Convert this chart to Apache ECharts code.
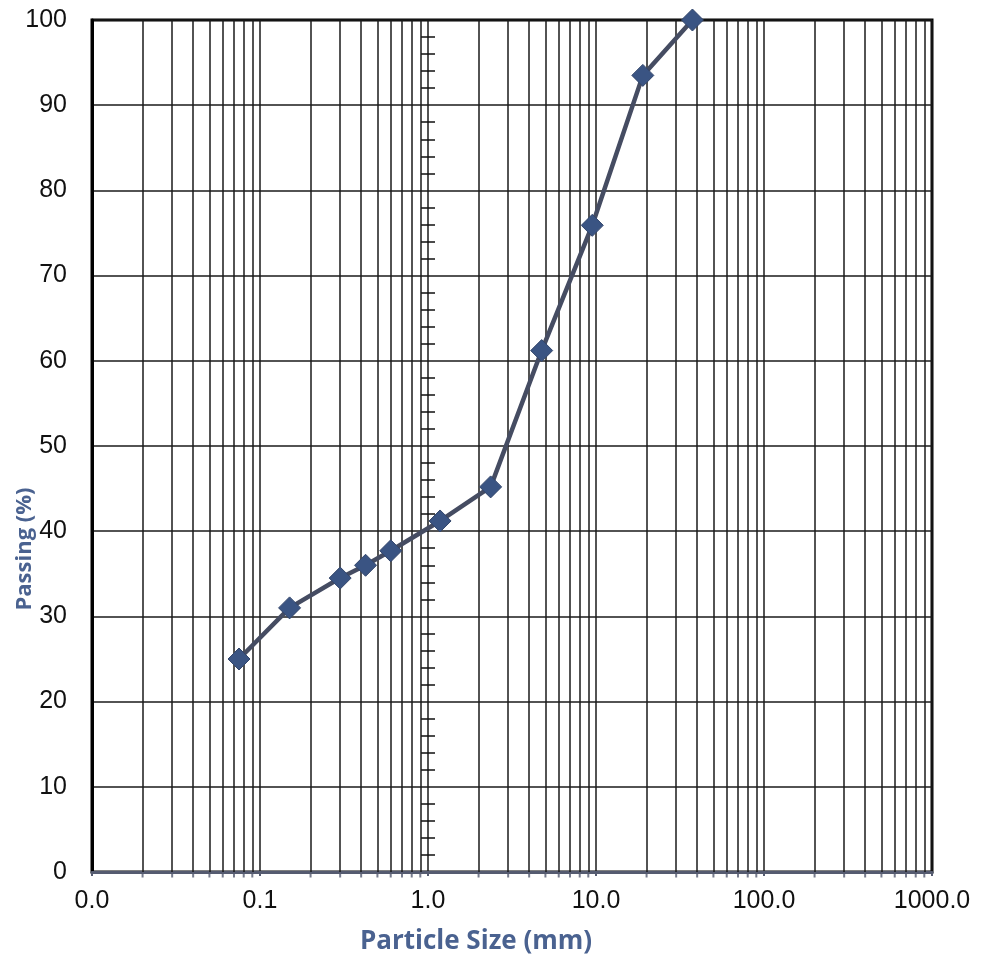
<!DOCTYPE html>
<html>
<head>
<meta charset="utf-8">
<script src="https://cdn.jsdelivr.net/npm/echarts@6/dist/echarts.min.js"></script>
<style>html,body{margin:0;padding:0;background:#fff}#c{width:987px;height:960px}</style>
</head>
<body>
<div id="c"></div>
<script>
// Sieve sizes (mm) and percent passing
const particleSize = [0.075, 0.15, 0.3, 0.425, 0.6, 1.18, 2.36, 4.75, 9.5, 19, 37.5];
const passing = [25, 31, 34.5, 36, 37.7, 41.2, 45.2, 61.2, 75.9, 93.5, 100];
// Axis ranges
const xDecades = [0.01, 0.1, 1, 10, 100, 1000];
const xMinorMultipliers = [2, 3, 4, 5, 6, 7, 8, 9];
const yTicks = [0, 10, 20, 30, 40, 50, 60, 70, 80, 90, 100];
const xTitle = 'Particle Size (mm)';
const yTitle = 'Passing (%)';

const minorX = [];
for (let i = 0; i < xDecades.length - 1; i++) {
  for (const m of xMinorMultipliers) minorX.push(+(xDecades[i] * m).toPrecision(3));
}

const chart = echarts.init(document.getElementById('c'), null, {renderer: 'canvas'});
const labelFont = {fontFamily: 'Liberation Sans, Arial, sans-serif', fontSize: 25, color: '#111'};
const titleColor = '#4a6290';

chart.setOption({
  animation: false,
  backgroundColor: '#fff',
  grid: {left: 92, right: 55, top: 20, bottom: 88, show: true, borderColor: '#000', borderWidth: 3, backgroundColor: 'transparent'},
  xAxis: {
    type: 'log', logBase: 10, min: xDecades[0], max: xDecades[xDecades.length - 1],
    axisLine: {show: true, lineStyle: {color: '#555b70', width: 3}},
    axisTick: {show: true, length: 4, lineStyle: {color: '#555b70', width: 2}},
    axisLabel: Object.assign({margin: 17, formatter: v => (+v).toFixed(1)}, labelFont),
    splitLine: {show: true, lineStyle: {color: '#1a1a1a', width: 1.5}}
  },
  yAxis: [{
    type: 'value', min: yTicks[0], max: yTicks[yTicks.length - 1], interval: 10,
    axisLine: {show: true, lineStyle: {color: '#000', width: 3}},
    axisTick: {show: false},
    axisLabel: Object.assign({margin: 25}, labelFont),
    splitLine: {show: true, lineStyle: {color: '#1a1a1a', width: 1.5}}
  }, {
    type: 'value', min: yTicks[0], max: yTicks[yTicks.length - 1], interval: 10,
    position: 'left', offset: -343,
    axisLine: {show: false},
    axisTick: {show: false},
    axisLabel: {show: false},
    splitLine: {show: false},
    minorTick: {show: true, splitNumber: 5, length: 14, inside: true, lineStyle: {color: '#111', width: 1.5}}
  }],
  graphic: [
    {type: 'text', position: [476, 942], style: {text: xTitle, fill: titleColor, font: 'bold 26px "Open Sans", Lato, sans-serif', textAlign: 'center', textVerticalAlign: 'middle'}},
    {type: 'text', rotation: Math.PI / 2, position: [25, 549], style: {text: yTitle, fill: titleColor, font: 'bold 22px "Open Sans", Lato, sans-serif', textAlign: 'center', textVerticalAlign: 'middle'}}
  ],
  series: [{
    type: 'line',
    data: minorX.map(v => [v, 0]),
    symbol: 'none',
    lineStyle: {opacity: 0},
    silent: true,
    z: 1,
    markLine: {
      silent: true, symbol: 'none', label: {show: false},
      lineStyle: {color: '#1a1a1a', width: 1.5, type: 'solid'},
      data: minorX.map(v => ({xAxis: v}))
    }
  }, {
    type: 'scatter',
    data: minorX.map(v => [v, 0]),
    symbol: 'rect', symbolSize: [2, 5], symbolOffset: [0, 3],
    itemStyle: {color: '#555b70'},
    clip: false, silent: true, z: 3
  }, {
    type: 'line',
    data: particleSize.map((x, i) => [x, passing[i]]),
    symbol: 'diamond', symbolSize: 22,
    lineStyle: {color: '#454c62', width: 4.5},
    itemStyle: {color: '#3a5483', borderColor: '#33466b', borderWidth: 1},
    clip: false, z: 5
  }]
});
</script>
</body>
</html>
